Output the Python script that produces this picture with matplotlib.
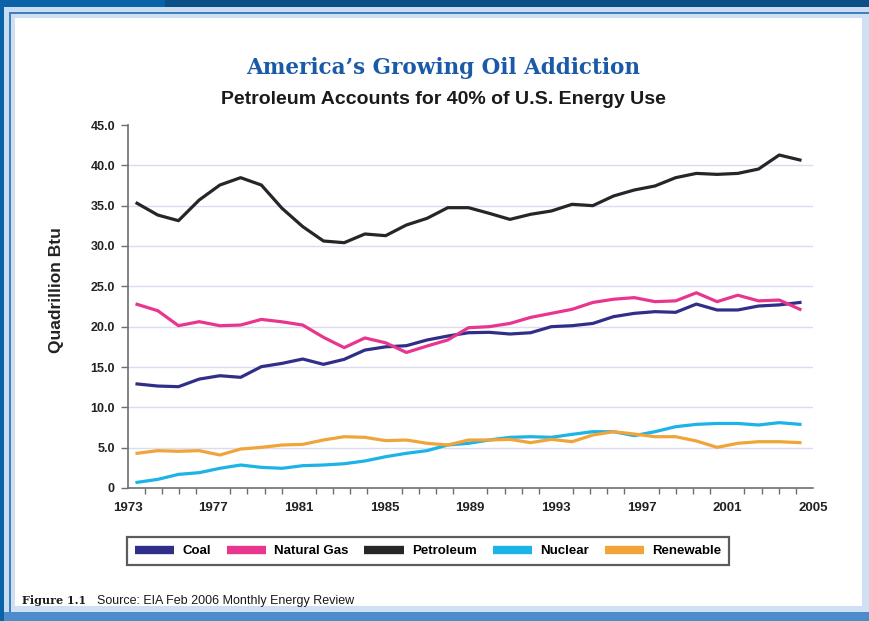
import numpy as np
import matplotlib
matplotlib.use("Agg")
import matplotlib.pyplot as plt
from matplotlib.patches import Rectangle

# ---- data (quadrillion Btu)
years = list(range(1973, 2006))
coal = [12.9, 12.64, 12.56, 13.5, 13.92, 13.72, 15.04, 15.45, 15.99, 15.33, 15.95,
        17.1, 17.5, 17.64, 18.35, 18.84, 19.25, 19.3, 19.09, 19.25, 20.0, 20.12,
        20.4, 21.24, 21.65, 21.86, 21.78, 22.8, 22.07, 22.07, 22.56, 22.7, 23.0]
natural_gas = [22.77, 21.98, 20.12, 20.62, 20.12, 20.2, 20.9, 20.6, 20.2, 18.68, 17.4,
               18.6, 18.0, 16.8, 17.6, 18.35, 19.87, 20.0, 20.4, 21.15, 21.65, 22.15,
               23.0, 23.4, 23.6, 23.1, 23.2, 24.2, 23.1, 23.9, 23.2, 23.3, 22.15]
petroleum = [35.3, 33.84, 33.14, 35.7, 37.56, 38.47, 37.56, 34.67, 32.4, 30.62, 30.41,
             31.49, 31.28, 32.6, 33.43, 34.75, 34.75, 34.05, 33.3, 33.93, 34.34, 35.17,
             35.0, 36.2, 36.94, 37.44, 38.47, 39.0, 38.88, 39.0, 39.54, 41.28, 40.66]
nuclear = [0.7, 1.07, 1.69, 1.9, 2.44, 2.85, 2.56, 2.44, 2.77, 2.85, 3.01,
           3.35, 3.88, 4.3, 4.63, 5.33, 5.54, 5.95, 6.28, 6.36, 6.28, 6.65,
           6.98, 6.98, 6.49, 6.98, 7.6, 7.89, 8.0, 8.0, 7.81, 8.1, 7.89]
renewable = [4.3, 4.63, 4.55, 4.63, 4.09, 4.83, 5.04, 5.33, 5.41, 5.95, 6.36,
             6.28, 5.87, 5.95, 5.54, 5.33, 5.95, 5.95, 6.03, 5.62, 6.03, 5.74,
             6.57, 6.98, 6.69, 6.36, 6.36, 5.83, 5.04, 5.54, 5.74, 5.74, 5.62]

series_names = ["Coal", "Natural Gas", "Petroleum", "Nuclear", "Renewable"]
series_vals = [coal, natural_gas, petroleum, nuclear, renewable]
colors = ["#2f2f8a", "#e8368e", "#262626", "#1cb3e6", "#f0a43a"]

x_labels = ["1973", "1977", "1981", "1985", "1989", "1993", "1997", "2001", "2005"]
y_ticks = [0, 5, 10, 15, 20, 25, 30, 35, 40, 45]
y_labels = ["0", "5.0", "10.0", "15.0", "20.0", "25.0", "30.0", "35.0", "40.0", "45.0"]

plt.rcParams['font.family'] = ['Liberation Sans', 'DejaVu Sans']

W, H = 869, 621
fig = plt.figure(figsize=(W / 100, H / 100), dpi=100)

# ---- blue frame around the white panel (drawn under the axes)
def px_rect(x0, y0, x1, y1, color):
    fig.patches.append(Rectangle((x0 / W, 1 - y1 / H), (x1 - x0) / W, (y1 - y0) / H,
                                 transform=fig.transFigure, facecolor=color,
                                 edgecolor='none', zorder=-10))

px_rect(0, 0, W, H, "#0a63a8")
px_rect(165, 0, W, 8, "#0b4f86")
px_rect(4, 7, W, 612, "#c9dcf1")
px_rect(9, 12, W, 612, "#3f7fbe")
px_rect(11, 14, W, 612, "#cfe0f3")
px_rect(15, 18, 862, 606, "#ffffff")
px_rect(4, 612, W, H, "#4d8ccc")

# ---- axes
ax = fig.add_axes([127.5 / W, 1 - 488 / H, (813 - 127.5) / W, (488 - 125) / H])
ax.set_facecolor('none')
x0, x1 = 1972.54, 2005.63
for name, vals, c in zip(series_names, series_vals, colors):
    ax.plot(years, vals, color=c, lw=2.3, label=name, solid_joinstyle='round', zorder=3)

ax.set_xlim(x0, x1)
ax.set_ylim(0, 45)
ax.set_xticks(np.linspace(x0, x1, 9))
ax.set_xticklabels(x_labels)
ax.set_xticks(np.linspace(x0, x1, 41), minor=True)
ax.set_yticks(y_ticks)
ax.set_yticklabels(y_labels)
for v in y_ticks[1:-1]:
    ax.axhline(v, color="#dcdcf0", lw=1.0, zorder=1)

for s in ['top', 'right']:
    ax.spines[s].set_visible(False)
for s in ['left', 'bottom']:
    ax.spines[s].set_color("#6e6e6e")
    ax.spines[s].set_linewidth(1.2)

ax.tick_params(axis='x', which='major', length=0, pad=10, labelsize=9.5, colors="#222222")
ax.tick_params(axis='x', which='minor', length=4, width=1, color="#6e6e6e", direction='out')
ax.tick_params(axis='y', length=5, width=1, color="#6e6e6e", pad=4, labelsize=9, labelcolor="#222222")
for lab in ax.get_xticklabels() + ax.get_yticklabels():
    lab.set_fontweight('bold')

fig.text(56 / W, 1 - 290 / H, "Quadrillion Btu", rotation=90, ha='center', va='center',
         fontsize=12.5, fontweight='bold', color="#222222")

# ---- titles
fig.text(443 / W, 1 - 68 / H, "America\u2019s Growing Oil Addiction", ha='center', va='center',
         fontsize=15.5, fontweight='bold', color="#1b5aa8", family=['DejaVu Serif'])
fig.text(443 / W, 1 - 99 / H, "Petroleum Accounts for 40% of U.S. Energy Use", ha='center',
         va='center', fontsize=14, fontweight='bold', color="#1a1a1a")

# ---- legend
leg = fig.legend(loc='center', bbox_to_anchor=(428 / W, 1 - 551 / H), ncol=5, frameon=True,
                 fancybox=False, handlelength=3.0, handleheight=0.6, columnspacing=1.2,
                 handletextpad=0.6, borderpad=0.6, prop={'weight': 'bold', 'size': 9.5})
leg.get_frame().set_edgecolor("#333333")
leg.get_frame().set_linewidth(1.6)
for h in leg.get_lines():
    h.set_linewidth(6)
    h.set_solid_capstyle('butt')

# ---- footer
fig.text(22 / W, 1 - 601 / H, "Figure 1.1", ha='left', va='center', fontsize=8,
         fontweight='bold', color="#1a1a1a", family=['DejaVu Serif'])
fig.text(97 / W, 1 - 601 / H, "Source: EIA Feb 2006 Monthly Energy Review", ha='left',
         va='center', fontsize=9, color="#1a1a1a")

fig.savefig("out.png", dpi=100)
